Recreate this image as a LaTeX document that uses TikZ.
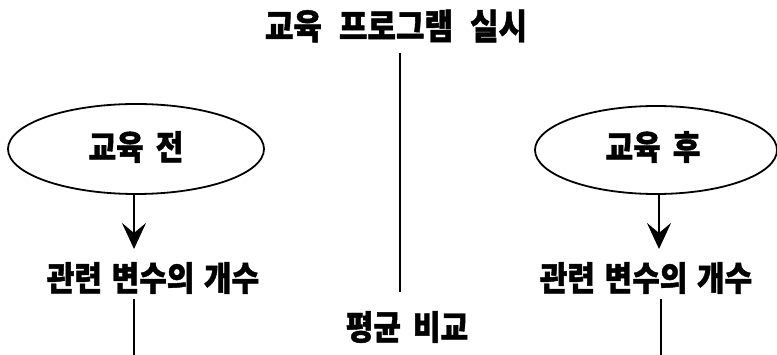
\documentclass[tikz,border=0pt]{standalone}
\usepackage{fontspec}
\usepackage{graphicx}
\usetikzlibrary{shapes.geometric,arrows.meta}
\newfontfamily\kr{Noto Sans CJK KR}[BoldFeatures={FakeBold=1.3}]
\newcommand{\gap}{\hspace{0.32em}}
\newcommand{\tgap}{\hspace{0.55em}}
\newcommand{\tall}[1]{\scalebox{1}[1.13]{#1}}
\begin{document}
\begin{tikzpicture}[x=1pt,y=-1pt,
  lbl/.style={inner sep=0pt,font=\kr\bfseries\fontsize{30}{32}\selectfont},
  ttl/.style={inner sep=0pt,font=\kr\bfseries\fontsize{31}{33}\selectfont},
  oval/.style={ellipse,draw,line width=1.8pt,inner sep=0pt},
  conn/.style={line width=1.3pt},
  arr/.style={line width=2.6pt,-{Stealth[length=26pt,width=24pt,inset=10pt]}}]
\useasboundingbox (0,0) rectangle (777,355);
\node[ttl] (title) at (396,26) {\tall{교육\tgap 프로그램\tgap 실시}};
\coordinate (mtop) at (400,53);
\coordinate (mbot) at (400,292);
\draw[conn] (mtop) -- (mbot);
\node[oval,minimum width=256pt,minimum height=90pt] (e1) at (136,149) {};
\node[lbl] (t1) at (136,147) {\tall{교육\hspace{0.4em}전}};
\node[oval,minimum width=242pt,minimum height=88pt] (e2) at (656,150) {};
\node[lbl] (t2) at (653,147) {\tall{교육\hspace{0.4em}후}};
\node[lbl] (v1) at (153,278) {\tall{관련\gap 변수의\gap 개수}};
\node[lbl] (v2) at (646,278) {\tall{관련\gap 변수의\gap 개수}};
\coordinate (a1) at (134,249);
\coordinate (a2) at (659,249);
\draw[arr] (e1.south -| a1) -- (a1);
\draw[arr] (e2.south -| a2) -- (a2);
\node[lbl] (cmp) at (407,327) {\tall{평균\hspace{0.4em}비교}};
\coordinate (l1top) at (134,299);
\coordinate (l1bot) at (134,355);
\coordinate (l2top) at (661,299);
\coordinate (l2bot) at (661,355);
\draw[conn] (l1top) -- (l1bot);
\draw[conn] (l2top) -- (l2bot);
\end{tikzpicture}
\end{document}
